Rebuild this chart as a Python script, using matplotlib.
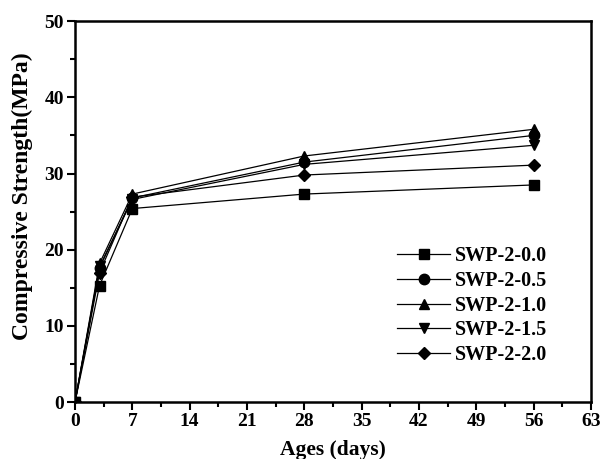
import matplotlib
matplotlib.use('Agg')
import matplotlib.pyplot as plt
from matplotlib.ticker import MultipleLocator

plt.rcParams['font.family'] = ['Liberation Serif', 'DejaVu Serif']
plt.rcParams['font.weight'] = 'bold'

# ===== 数据 =====
ages = [0, 3, 7, 28, 56]
s_00 = [0, 15.3, 25.4, 27.3, 28.5]
s_05 = [0, 17.6, 26.8, 31.5, 35.0]
s_10 = [0, 18.2, 27.3, 32.3, 35.8]
s_15 = [0, 17.8, 26.6, 31.2, 33.7]
s_20 = [0, 17.0, 26.9, 29.8, 31.1]

series = [
    ('SWP-2-0.0', s_00, 's'),
    ('SWP-2-0.5', s_05, 'o'),
    ('SWP-2-1.0', s_10, '^'),
    ('SWP-2-1.5', s_15, 'v'),
    ('SWP-2-2.0', s_20, 'D'),
]

fig = plt.figure(figsize=(6, 4.59), dpi=100)
ax = fig.add_axes([0.125, 0.124, 0.86, 0.83])

for label, vals, mk in series:
    ms = 7.5 if mk != 'D' else 6.5
    ax.plot(ages, vals, color='black', marker=mk, markersize=ms,
            linewidth=0.9, label=label)

ax.set_xlim(0, 63)
ax.set_ylim(0, 50)
ax.xaxis.set_major_locator(MultipleLocator(7))
ax.xaxis.set_minor_locator(MultipleLocator(3.5))
ax.yaxis.set_major_locator(MultipleLocator(10))
ax.yaxis.set_minor_locator(MultipleLocator(5))
ax.tick_params(which='both', direction='out', width=1.5, labelsize=14, pad=2)
ax.tick_params(which='major', length=6)
ax.tick_params(which='minor', length=3.5)
for sp in ax.spines.values():
    sp.set_linewidth(1.8)
for t in ax.get_xticklabels() + ax.get_yticklabels():
    t.set_fontweight('bold')

ax.set_xlabel('Ages (days)', fontsize=15.5, fontweight='bold')
ax.set_ylabel('Compressive Strength(MPa)', fontsize=17, fontweight='bold')
ax.xaxis.set_label_coords(0.5, -0.1)
ax.yaxis.set_label_coords(-0.081, 0.54)

ax.legend(loc='lower right', frameon=False,
          prop={'weight': 'bold', 'size': 14.5}, handlelength=2.6,
          labelspacing=0.23, handletextpad=0.25, bbox_to_anchor=(0.95, 0.05))

plt.savefig('out.png', dpi=100)
